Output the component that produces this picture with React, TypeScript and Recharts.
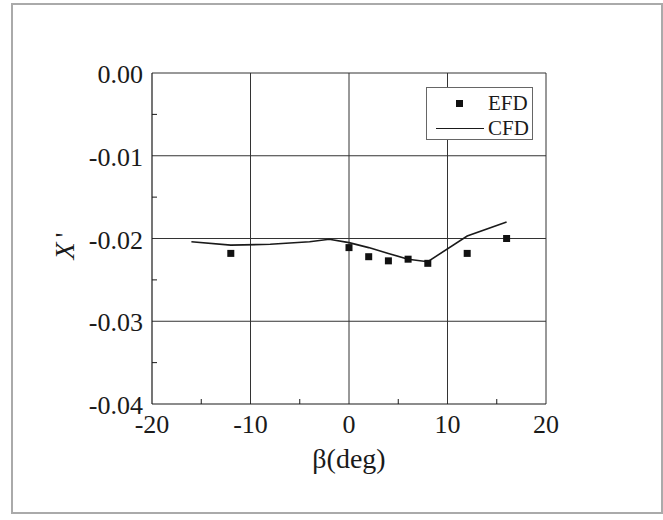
import React from "react";
import { ComposedChart, Line, Scatter, XAxis, YAxis, ReferenceLine, Label } from "recharts";

// sideslip angle beta (deg) vs surge force coefficient X'
const efdBeta = [-12, 0, 2, 4, 6, 8, 12, 16];
const efdX = [-0.0218, -0.0211, -0.0222, -0.0227, -0.0225, -0.023, -0.0218, -0.02];

const cfdBeta = [-16, -12, -8, -4, -2, 0, 2, 4, 6, 8, 12, 16];
const cfdX = [-0.0204, -0.0208, -0.0207, -0.0204, -0.0201, -0.0205, -0.0211, -0.0218, -0.0225, -0.0228, -0.0197, -0.018];

const xMajor = [-20, -10, 0, 10, 20];
const xMinor = [-15, -5, 5, 15];
const yMajor = [0, -0.01, -0.02, -0.03, -0.04];
const yMinor = [-0.005, -0.015, -0.025, -0.035];

const efdData = efdBeta.map((b, i) => ({ beta: b, x: efdX[i] }));
const cfdData = cfdBeta.map((b, i) => ({ beta: b, x: cfdX[i] }));

const FONT = "'Liberation Serif', 'Times New Roman', serif";
const INK = "#1a1a1a";

const isIn = (arr: number[], v: number) => arr.some((a) => Math.abs(a - v) < 1e-9);

const XTick = (props: any) => {
  const { x, y, payload } = props;
  if (isIn(xMajor, payload.value)) {
    return (
      <text x={x} y={y + 29} textAnchor="middle" style={{ fontFamily: FONT, fontSize: 26 }} fill={INK}>
        {payload.value}
      </text>
    );
  }
  return <line x1={x} x2={x} y1={y} y2={y - 5} stroke={INK} strokeWidth={1} />;
};

const YTick = (props: any) => {
  const { x, y, payload } = props;
  if (isIn(yMajor, payload.value)) {
    return (
      <text x={x - 9} y={y + 10} textAnchor="end" style={{ fontFamily: FONT, fontSize: 26 }} fill={INK}>
        {payload.value.toFixed(2)}
      </text>
    );
  }
  return <line x1={x} x2={x + 5} y1={y} y2={y} stroke={INK} strokeWidth={1} />;
};

const Square = (props: any) => (
  <rect x={props.cx - 3.5} y={props.cy - 3.5} width={7} height={7} fill="#111" />
);

export default function App() {
  return (
    <div style={{ position: "absolute", left: 0, top: 0, width: 663, height: 520, background: "#fff" }}>
      <div
        style={{
          position: "absolute", left: 11, top: 3, width: 648, height: 507,
          border: "2px solid #aaa",
        }}
      />
      <ComposedChart
        width={663}
        height={520}
        margin={{ top: 73, right: 117, bottom: 76, left: 80 }}
        style={{ position: "absolute", left: 0, top: 0 }}
      >
        <XAxis
          dataKey="beta"
          type="number"
          domain={[-20, 20]}
          ticks={[...xMajor, ...xMinor].sort((a, b) => a - b)}
          interval={0}
          tickSize={0}
          tickMargin={0}
          tick={<XTick />}
          height={40}
          axisLine={{ stroke: INK, strokeWidth: 1.2 }}
          allowDataOverflow
        >
          <Label
            content={() => (
              <text x={349} y={468} textAnchor="middle" style={{ fontFamily: FONT, fontSize: 28 }} fill={INK}>
                β(deg)
              </text>
            )}
          />
        </XAxis>
        <YAxis
          dataKey="x"
          type="number"
          domain={[-0.04, 0]}
          ticks={[...yMajor, ...yMinor]}
          interval={0}
          tickSize={0}
          tickMargin={0}
          tick={<YTick />}
          width={72}
          axisLine={{ stroke: INK, strokeWidth: 1.2 }}
          allowDataOverflow
        >
          <Label
            content={() => (
              <text
                x={74}
                y={246}
                transform="rotate(-90 74 246)"
                textAnchor="middle"
                style={{ fontFamily: FONT, fontSize: 28 }}
                fill={INK}
              >
                <tspan fontStyle="italic">X</tspan>
                <tspan dx={5}>'</tspan>
              </text>
            )}
          />
        </YAxis>
        {[-10, 0, 10, 20].map((v) => (
          <ReferenceLine key={"gx" + v} x={v} stroke="#333" strokeWidth={1} />
        ))}
        {[-0.01, -0.02, -0.03, 0].map((v) => (
          <ReferenceLine key={"gy" + v} y={v} stroke="#333" strokeWidth={1} />
        ))}
        <Line
          data={cfdData}
          dataKey="x"
          type="linear"
          stroke={INK}
          strokeWidth={1.6}
          dot={false}
          activeDot={false}
          isAnimationActive={false}
        />
        <Scatter data={efdData} dataKey="x" shape={<Square />} isAnimationActive={false} />
      </ComposedChart>
      <div
        style={{
          position: "absolute", left: 426, top: 87, width: 107, height: 53,
          border: "1px solid #666", background: "#fff", boxSizing: "border-box",
          fontFamily: FONT, fontSize: 21, color: INK,
        }}
      >
        <div style={{ position: "absolute", left: 29, top: 12, width: 7, height: 7, background: "#111" }} />
        <div style={{ position: "absolute", left: 61, top: 3, lineHeight: "24px" }}>EFD</div>
        <div style={{ position: "absolute", left: 9, top: 40, width: 48, height: 0, borderTop: "1.6px solid " + INK }} />
        <div style={{ position: "absolute", left: 61, top: 28, lineHeight: "24px" }}>CFD</div>
      </div>
    </div>
  );
}
